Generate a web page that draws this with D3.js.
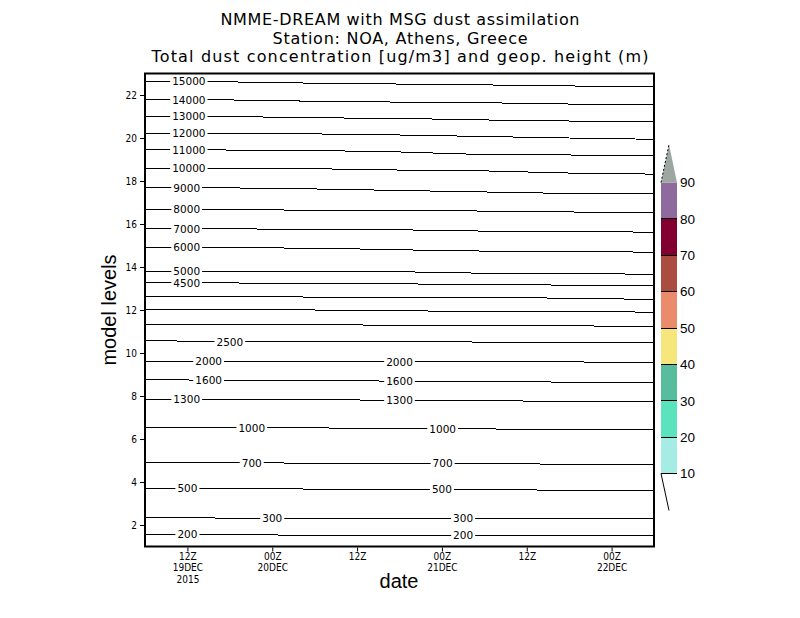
<!DOCTYPE html>
<html>
<head>
<meta charset="utf-8">
<script src="https://cdn.jsdelivr.net/npm/d3@7"></script>
<style>
  body { margin: 0; background: #fff; }
  text { fill: #000; }
</style>
</head>
<body>
<svg id="chart" width="800" height="618"></svg>
<script>
// sample times of the contour traces, hours after 06Z 19DEC2015
const sampleHours = [0, 12, 24, 36, 48, 60, 72];

// geopotential height contours (m) and the model level they sit on at each sample time
const heightValues = [15000, 14000, 13000, 12000, 11000, 10000, 9000, 8000, 7000, 6000,
  5000, 4500, 4000, 3500, 3000, 2500, 2000, 1600, 1300, 1000, 700, 500, 300, 200];
const heightLevels = [
  [22.63, 22.61, 22.55, 22.51, 22.47, 22.42, 22.40],
  [21.78, 21.77, 21.71, 21.67, 21.64, 21.58, 21.57],
  [21.00, 21.00, 20.94, 20.91, 20.84, 20.79, 20.75],
  [20.22, 20.22, 20.19, 20.14, 20.07, 20.00, 19.94],
  [19.47, 19.44, 19.42, 19.35, 19.23, 19.21, 19.17],
  [18.60, 18.60, 18.57, 18.51, 18.47, 18.37, 18.32],
  [17.68, 17.68, 17.63, 17.56, 17.49, 17.42, 17.40],
  [16.67, 16.67, 16.64, 16.65, 16.60, 16.56, 16.52],
  [15.78, 15.78, 15.74, 15.73, 15.67, 15.65, 15.62],
  [14.91, 14.89, 14.88, 14.80, 14.74, 14.72, 14.69],
  [13.80, 13.80, 13.78, 13.78, 13.71, 13.70, 13.66],
  [13.26, 13.26, 13.22, 13.22, 13.17, 13.16, 13.13],
  [12.64, 12.63, 12.60, 12.60, 12.58, 12.55, 12.49],
  [12.01, 12.01, 12.00, 11.96, 11.94, 11.93, 11.90],
  [11.33, 11.33, 11.33, 11.28, 11.27, 11.27, 11.22],
  [10.58, 10.52, 10.52, 10.52, 10.51, 10.47, 10.47],
  [9.62, 9.62, 9.62, 9.59, 9.59, 9.59, 9.54],
  [8.77, 8.72, 8.72, 8.69, 8.69, 8.64, 8.64],
  [7.84, 7.84, 7.84, 7.79, 7.79, 7.74, 7.74],
  [6.52, 6.52, 6.52, 6.47, 6.47, 6.43, 6.43],
  [4.89, 4.89, 4.88, 4.86, 4.85, 4.83, 4.83],
  [3.70, 3.70, 3.67, 3.65, 3.64, 3.62, 3.62],
  [2.35, 2.32, 2.30, 2.30, 2.29, 2.29, 2.29],
  [1.57, 1.54, 1.53, 1.51, 1.50, 1.50, 1.50]
];
// where the contour labels sit (hours after 06Z 19DEC)
const labelHours = [
  [6.2], [6.2], [6.2], [6.2], [6.2], [6.2], [5.9], [5.9], [5.9], [5.9],
  [5.9], [5.9], [], [], [], [12], [9, 36], [9, 36], [5.9, 36], [15.1, 42.1],
  [15.1, 42.1], [6, 42], [18, 45], [6, 45]
];

// axes
const levelDomain = [1, 23];
const yTicks = [2, 4, 6, 8, 10, 12, 14, 16, 18, 20, 22];
const xTickHours = [6, 18, 30, 42, 54, 66];
const xTickLabels = [["12Z", "19DEC", "2015"], ["00Z", "20DEC"], ["12Z"],
  ["00Z", "21DEC"], ["12Z"], ["00Z", "22DEC"]];

// dust colour bar
const dustLevels = [10, 20, 30, 40, 50, 60, 70, 80, 90];
const dustColors = ["#a5ede4", "#5be3bd", "#57bd9d", "#f7e67b",
  "#ea8c6b", "#ab4c41", "#82002f", "#8f6a9e"];
const dustOverColor = "#9ea6a2";

const titleLines = ["NMME-DREAM with MSG dust assimilation",
  "Station: NOA, Athens, Greece",
  "Total dust concentration [ug/m3] and geop. height (m)"];

const svg = d3.select("#chart");
const t0 = Date.UTC(2015, 11, 19, 6);
const hourDate = h => new Date(t0 + h * 3600e3);

const plot = { left: 145, right: 654, top: 73.5, bottom: 546.5 };

const x = d3.scaleUtc()
  .domain([hourDate(0), hourDate(72)])
  .range([plot.left, plot.right]);
const y = d3.scaleLinear()
  .domain(levelDomain)
  .range([plot.bottom, plot.top]);

// title - the original font is wide and evenly spaced, so stretch to its widths
const titleWidths = [359, 255, 497];
svg.append("g")
  .selectAll("text")
  .data(titleLines)
  .join("text")
  .attr("x", 400)
  .attr("y", (d, i) => 25 + i * 18.7)
  .attr("text-anchor", "middle")
  .attr("textLength", (d, i) => titleWidths[i])
  .attr("lengthAdjust", "spacing")
  .style("font", "16px 'DejaVu Sans', sans-serif")
  .text(d => d);

// contour lines
const line = d3.line()
  .x(d => x(hourDate(d[0])))
  .y(d => y(d[1]));

const contours = svg.append("g");
heightValues.forEach((v, i) => {
  const pts = sampleHours.map((h, j) => [h, heightLevels[i][j]]);
  contours.append("path")
    .attr("d", line(pts))
    .attr("fill", "none")
    .attr("stroke", "#000")
    .attr("stroke-width", 1)
    .attr("shape-rendering", "crispEdges");
});

// contour labels, with a white gap in the line
const labels = svg.append("g");
heightValues.forEach((v, i) => {
  const along = d3.scaleLinear().domain(sampleHours).range(heightLevels[i]);
  labelHours[i].forEach(h => {
    const lx = x(hourDate(h));
    const ly = y(along(h));
    const g = labels.append("g").attr("transform", `translate(${lx},${ly})`);
    const rect = g.append("rect").attr("fill", "#fff");
    const t = g.append("text")
      .attr("text-anchor", "middle")
      .attr("dy", "0.36em")
      .style("font", "10.5px 'DejaVu Sans', sans-serif")
      .text(v);
    const bb = t.node().getBBox();
    rect.attr("x", bb.x - 2).attr("width", bb.width + 4)
      .attr("y", -4).attr("height", 8);
  });
});

// frame
svg.append("rect")
  .attr("x", plot.left)
  .attr("y", plot.top)
  .attr("width", plot.right - plot.left)
  .attr("height", plot.bottom - plot.top)
  .attr("fill", "none")
  .attr("stroke", "#000")
  .attr("stroke-width", 2);

// y axis
const yAxis = svg.append("g")
  .attr("transform", `translate(${plot.left - 1},0)`)
  .call(d3.axisLeft(y).tickValues(yTicks).tickSize(4).tickPadding(3));
yAxis.select(".domain").remove();
yAxis.selectAll("text")
  .style("font", "10px 'DejaVu Sans Condensed', sans-serif");

// x axis, labels stacked on up to three lines
const xAxis = svg.append("g")
  .attr("transform", `translate(0,${plot.bottom + 1})`)
  .call(d3.axisBottom(x).tickValues(xTickHours.map(hourDate)).tickSize(4).tickFormat(""));
xAxis.select(".domain").remove();
xAxis.selectAll(".tick").each(function (d, i) {
  const t = d3.select(this).select("text")
    .attr("y", null)
    .attr("dy", null)
    .style("font", "10px 'DejaVu Sans Condensed', sans-serif");
  xTickLabels[i].forEach((s, k) => {
    t.append("tspan").attr("x", 0).attr("y", 12 + k * 11.5).text(s);
  });
});

// axis titles
svg.append("text")
  .attr("transform", "translate(116,310) rotate(-90)")
  .attr("text-anchor", "middle")
  .style("font", "20px 'Liberation Sans', Arial, sans-serif")
  .text("model levels");
svg.append("text")
  .attr("x", 399)
  .attr("y", 588)
  .attr("text-anchor", "middle")
  .style("font", "20px 'Liberation Sans', Arial, sans-serif")
  .text("date");

// colour bar
const cb = { left: 661, right: 677 };
const cy = d3.scaleLinear().domain([10, 90]).range([473.5, 182.5]);
const bar = svg.append("g");
bar.selectAll("rect")
  .data(dustColors)
  .join("rect")
  .attr("x", cb.left)
  .attr("width", cb.right - cb.left)
  .attr("y", (d, i) => cy(dustLevels[i + 1]))
  .attr("height", (d, i) => cy(dustLevels[i]) - cy(dustLevels[i + 1]))
  .attr("fill", d => d);
bar.append("path")
  .attr("d", `M${cb.left},${cy(90)}L${(cb.left + cb.right) / 2},${cy(90) - 38}L${cb.right},${cy(90)}Z`)
  .attr("fill", dustOverColor);
bar.append("path")
  .attr("d", `M${cb.left},${cy(90)}L${(cb.left + cb.right) / 2},${cy(90) - 38}`)
  .attr("stroke", "#000")
  .attr("stroke-dasharray", "2,2")
  .attr("fill", "none");
bar.append("path")
  .attr("d", `M${cb.left},${cy(10)}L${(cb.left + cb.right) / 2},${cy(10) + 37}`)
  .attr("stroke", "#000")
  .attr("fill", "none");
bar.selectAll("line")
  .data(dustLevels.slice(0, 8))
  .join("line")
  .attr("x1", cb.left).attr("x2", cb.right)
  .attr("y1", d => cy(d)).attr("y2", d => cy(d))
  .attr("stroke", "#000")
  .attr("stroke-width", 1)
  .attr("shape-rendering", "crispEdges");
bar.selectAll("text")
  .data(dustLevels)
  .join("text")
  .attr("x", 680)
  .attr("y", d => cy(d))
  .attr("dy", "0.36em")
  .style("font", "13.5px 'Liberation Sans', Arial, sans-serif")
  .text(d => d);
</script>
</body>
</html>
